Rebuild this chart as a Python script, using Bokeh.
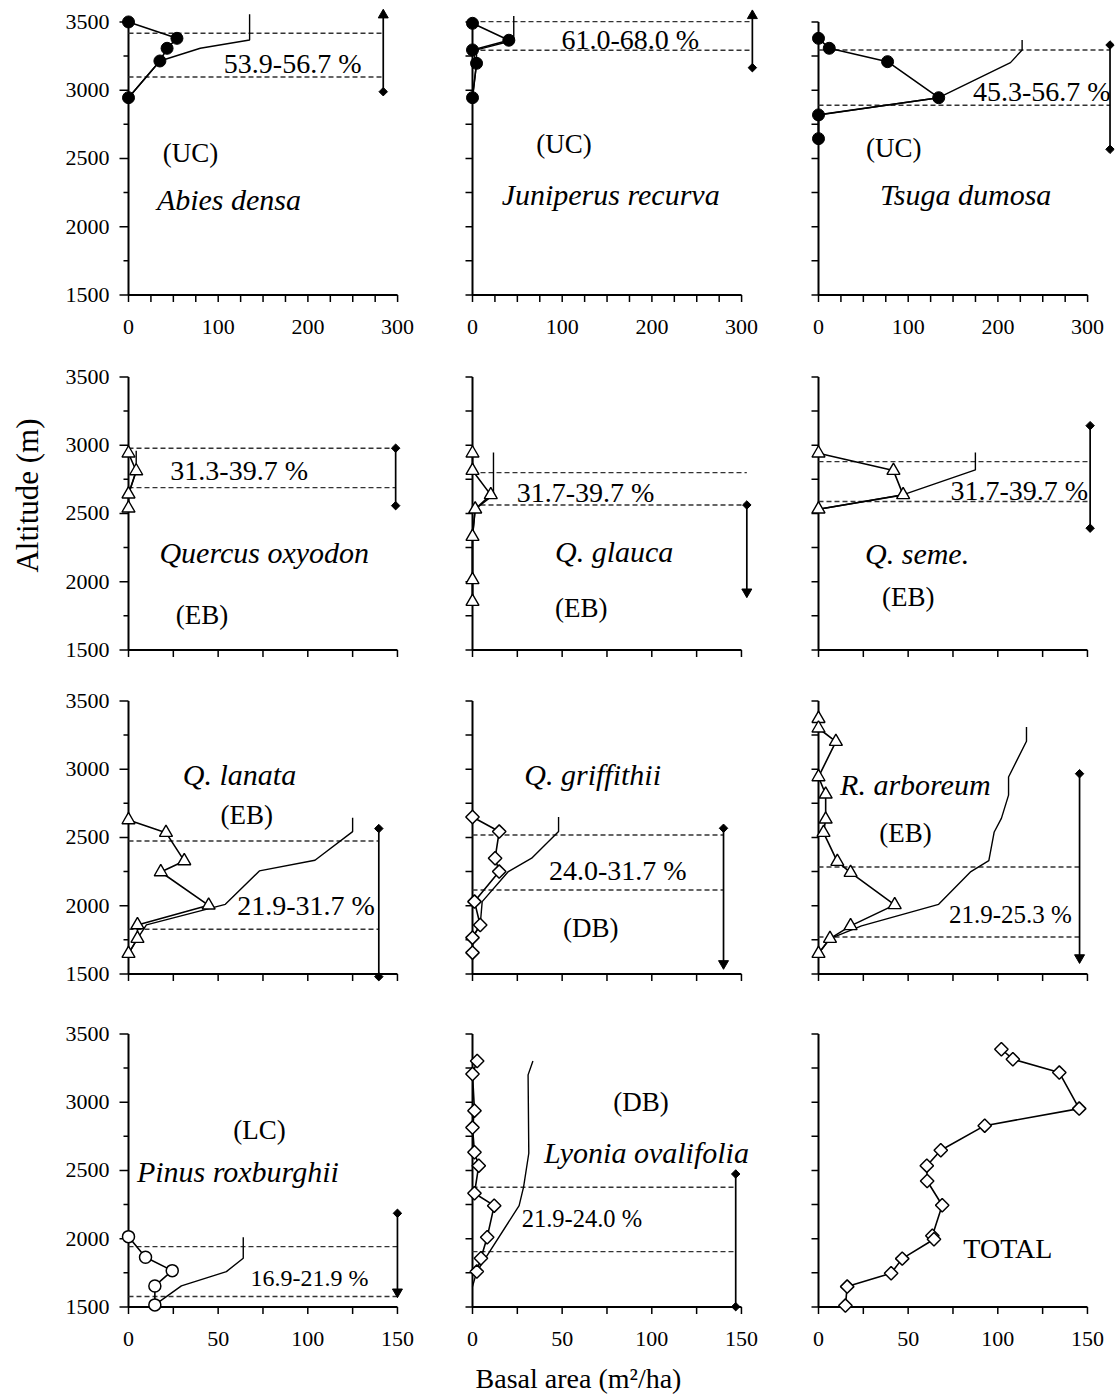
import numpy as np
from bokeh.plotting import figure
from bokeh.layouts import gridplot, row, column
from bokeh.models import Label, Range1d
from bokeh.embed import file_html
from bokeh.resources import INLINE
from bokeh.core.properties import value

FONT = "Liberation Serif"
AX_FONT = '"Liberation Serif", serif'

# ---------------- data: altitude (m) and basal area (m2/ha) ----------------
abies_alt = [3500, 3380, 3307, 3214, 2945]
abies_ba = [0, 54, 43, 35, 0]
abies_cum_alt = [2945, 3214, 3307, 3368, 3556]
abies_cum_ba = [0, 35, 80, 135, 135]
abies_band = [3097, 3417]
abies_range = [2989, 3580]

juniperus_alt = [3490, 3366, 3295, 3197, 2945]
juniperus_ba = [0, 40.5, 0, 4.5, 0]
juniperus_cum_alt = [2945, 3197, 3295, 3366, 3544]
juniperus_cum_ba = [0, 4.5, 4.5, 46, 46]
juniperus_band = [3293, 3502]
juniperus_range = [3165, 3575]

tsuga_alt = [3380, 3307, 3209, 2945, 2819, 2645]
tsuga_ba = [0, 12, 77, 134, 0, 0]
tsuga_cum_alt = [2645, 2819, 2945, 3202, 3295, 3368]
tsuga_cum_ba = [0, 0, 134, 214, 227, 227]
tsuga_band = [2890, 3295]
tsuga_range = [2567, 3331]

oxyodon_alt = [2941, 2811, 2641, 2538]
oxyodon_ba = [0, 4.3, 0, 0]
oxyodon_cum_alt = [2538, 2641, 2811, 2960]
oxyodon_cum_ba = [0, 0, 4.3, 4.3]
oxyodon_band = [2689, 2978]
oxyodon_range = [2557, 2978]

glauca_alt = [2941, 2814, 2636, 2531, 2330, 2013, 1854]
glauca_ba = [0, 0, 10.2, 1.5, 0, 0, 0]
glauca_cum_alt = [1854, 2013, 2330, 2531, 2636, 2946]
glauca_cum_ba = [0, 0, 0, 1.5, 11.7, 11.7]
glauca_band = [2562, 2799]
glauca_range = [1896, 2562]

seme_alt = [2941, 2814, 2636, 2531]
seme_ba = [0, 41.8, 47.2, 0]
seme_cum_alt = [2531, 2636, 2819, 2946]
seme_cum_ba = [0, 47, 87.5, 87.5]
seme_band = [2587, 2880]
seme_range = [2392, 3143]

lanata_alt = [2628, 2535, 2328, 2247, 2003, 1859, 1759, 1649]
lanata_ba = [0, 20.9, 31.1, 18, 44.7, 5, 5, 0]
lanata_cum_alt = [1649, 1759, 1859, 2010, 2255, 2333, 2543, 2645]
lanata_cum_ba = [0, 5, 10, 54, 73, 104, 125, 125]
lanata_band = [1827, 2474]
lanata_range = [1480, 2565]

griffithii_alt = [2650, 2543, 2348, 2250, 2030, 1859, 1766, 1656]
griffithii_ba = [0, 14.9, 12.6, 14.9, 1.1, 4.3, 0, 0]
griffithii_cum_alt = [1656, 1766, 1859, 2030, 2250, 2348, 2543, 2650]
griffithii_cum_ba = [0, 0, 4.3, 5.4, 20, 33, 48, 48]
griffithii_band = [2115, 2518]
griffithii_range = [1547, 2567]

arboreum_alt = [3370, 3300, 3202, 2943, 2816, 2633, 2535, 2323, 2242, 2006, 1852, 1759, 1649]
arboreum_ba = [0, 0, 9.7, 0, 4, 4, 2.8, 10.5, 17.9, 42.5, 17.9, 6.4, 0]
arboreum_cum_alt = [1649, 1759, 1852, 2010, 2250, 2330, 2540, 2640, 2810, 2943, 3205, 3310]
arboreum_cum_ba = [0, 6.4, 24, 67, 85, 95, 98, 102, 106, 106, 116, 116]
arboreum_band = [1771, 2284]
arboreum_range = [1590, 2967]

pinus_alt = [2015, 1864, 1766, 1654, 1515]
pinus_ba = [0, 9.5, 24.4, 14.7, 14.7]
pinus_cum_alt = [1515, 1654, 1759, 1857, 2011]
pinus_cum_ba = [14.7, 29.5, 54.6, 64, 64]
pinus_band = [1576, 1942]
pinus_range = [1581, 2186]

lyonia_alt = [3302, 3207, 2938, 2814, 2633, 2535, 2333, 2242, 2011, 1857, 1759]
lyonia_ba = [2.6, 0, 1.1, 0, 1.1, 3.5, 1.1, 12.1, 8.2, 4.7, 2.4]
lyonia_cum_alt = [1650, 1759, 2242, 2380, 2626, 3200, 3302]
lyonia_cum_ba = [0, 2.4, 26, 28.5, 31.4, 31, 33.7]
lyonia_band = [1905, 2377]
lyonia_range = [1502, 2474]

total_alt = [3388, 3315, 3217, 2953, 2828, 2648, 2535, 2423, 2245, 2022, 1996, 1854, 1747, 1649, 1510]
total_ba = [102, 108.4, 134.3, 145.4, 92.7, 68.2, 60.4, 60.6, 69, 63.5, 64.4, 46.7, 40.5, 16, 15]

alt_ticks = [1500, 2000, 2500, 3000, 3500]
ba_ticks_top = [0, 100, 200, 300]
ba_ticks_bottom = [0, 50, 100, 150]

# ---------------- panel definitions (layout / style) ----------------
PANELS = [
    dict(alt=abies_alt, ba=abies_ba, cum=(abies_cum_ba, abies_cum_alt), mk="fcircle",
         band=abies_band, rng=abies_range, ax=284, caps=("diamond", "up"),
         pct="53.9-56.7 %", pct_at=(183, 3192), pct_fs=28,
         cls="(UC)", cls_at=(69, 2540), sp="Abies densa", sp_at=(112, 2201)),
    dict(alt=juniperus_alt, ba=juniperus_ba, cum=(juniperus_cum_ba, juniperus_cum_alt), mk="fcircle",
         band=juniperus_band, rng=juniperus_range, ax=312, caps=("diamond", "up"),
         pct="61.0-68.0 %", pct_at=(176, 3373), pct_fs=28,
         cls="(UC)", cls_at=(102, 2604), sp="Juniperus recurva", sp_at=(154, 2238)),
    dict(alt=tsuga_alt, ba=tsuga_ba, cum=(tsuga_cum_ba, tsuga_cum_alt), mk="fcircle",
         band=tsuga_band, rng=tsuga_range, ax=325, caps=("diamond", "diamond"),
         pct="45.3-56.7 %", pct_at=(249, 2994), pct_fs=28,
         cls="(UC)", cls_at=(84, 2579), sp="Tsuga dumosa", sp_at=(164, 2238)),
    dict(alt=oxyodon_alt, ba=oxyodon_ba, cum=(oxyodon_cum_ba, oxyodon_cum_alt), mk="tri",
         band=oxyodon_band, rng=oxyodon_range, ax=149, caps=("diamond", "diamond"),
         pct="31.3-39.7 %", pct_at=(61.7, 2811), pct_fs=28,
         cls="(EB)", cls_at=(41, 1756), sp="Quercus oxyodon", sp_at=(75.7, 2213)),
    dict(alt=glauca_alt, ba=glauca_ba, cum=(glauca_cum_ba, glauca_cum_alt), mk="tri",
         band=glauca_band, rng=glauca_range, ax=153, caps=("down", "diamond"),
         pct="31.7-39.7 %", pct_at=(63, 2652), pct_fs=28,
         cls="(EB)", cls_at=(60.6, 1805), sp="Q. glauca", sp_at=(79, 2220)),
    dict(alt=seme_alt, ba=seme_ba, cum=(seme_cum_ba, seme_cum_alt), mk="tri",
         band=seme_band, rng=seme_range, ax=151.5, caps=("diamond", "diamond"),
         pct="31.7-39.7 %", pct_at=(112, 2667), pct_fs=28,
         cls="(EB)", cls_at=(50, 1890), sp="Q. seme.", sp_at=(55, 2203)),
    dict(alt=lanata_alt, ba=lanata_ba, cum=(lanata_cum_ba, lanata_cum_alt), mk="tri",
         band=lanata_band, rng=lanata_range, ax=139.6, caps=("diamond", "diamond"),
         pct="21.9-31.7 %", pct_at=(99, 2003), pct_fs=28,
         cls="(EB)", cls_at=(66, 2665), sp="Q. lanata", sp_at=(61.9, 2958)),
    dict(alt=griffithii_alt, ba=griffithii_ba, cum=(griffithii_cum_ba, griffithii_cum_alt), mk="dia",
         band=griffithii_band, rng=griffithii_range, ax=140, caps=("down", "diamond"),
         pct="24.0-31.7 %", pct_at=(81, 2260), pct_fs=28,
         cls="(DB)", cls_at=(66, 1840), sp="Q. griffithii", sp_at=(67, 2963)),
    dict(alt=arboreum_alt, ba=arboreum_ba, cum=(arboreum_cum_ba, arboreum_cum_alt), mk="tri",
         band=arboreum_band, rng=arboreum_range, ax=145.6, caps=("down", "diamond"),
         pct="21.9-25.3 %", pct_at=(107, 1937), pct_fs=25,
         cls="(EB)", cls_at=(48.5, 2535), sp="R. arboreum", sp_at=(54, 2890)),
    dict(alt=pinus_alt, ba=pinus_ba, cum=(pinus_cum_ba, pinus_cum_alt), mk="ocircle",
         band=pinus_band, rng=pinus_range, ax=150, caps=("down", "diamond"),
         pct="16.9-21.9 %", pct_at=(101, 1710), pct_fs=24,
         cls="(LC)", cls_at=(73, 2797), sp="Pinus roxburghii", sp_at=(61, 2491)),
    dict(alt=lyonia_alt, ba=lyonia_ba, cum=(lyonia_cum_ba, lyonia_cum_alt), mk="dia",
         band=lyonia_band, rng=lyonia_range, ax=146.8, caps=("diamond", "diamond"),
         pct="21.9-24.0 %", pct_at=(61, 2150), pct_fs=24.5,
         cls="(DB)", cls_at=(94, 3004), sp="Lyonia ovalifolia", sp_at=(97, 2633)),
    dict(alt=total_alt, ba=total_ba, cum=None, mk="dia",
         band=None, rng=None, ax=None, caps=None,
         pct=None, pct_at=None, pct_fs=None,
         cls="TOTAL", cls_at=(105.6, 1930), sp=None, sp_at=None),
]

# ---------------- geometry ----------------
YLAB_W = 50
COL_W = [390, 350, 328]
COL_LEFT = [68, 22, 18]
RIGHT = 4
ROW_H = [355, 324, 333, 346]
ROW_BOTTOM = [51, 20, 29, 42]
XLAB_H = 36
TOP = 5
FRAME_H = 299
PX_PER_M = 273 / 2000.0
Y0 = 1430
Y1 = Y0 + FRAME_H / PX_PER_M
X_SCALE = [0.897, 1.793, 1.793, 1.793]   # px per unit of basal area
AXIS_OFFSET = 10  # px between frame edge and x = 0


def add_cap(p, x, y, kind):
    if kind == "diamond":
        p.scatter([x], [y], marker="square", angle=np.pi / 4, size=6,
                  fill_color="black", line_color="black")
    else:
        shift = 4 / PX_PER_M
        if kind == "up":
            p.scatter([x], [y - shift], marker="triangle", size=10,
                      fill_color="black", line_color="black")
        else:
            p.scatter([x], [y + shift], marker="inverted_triangle", size=10,
                      fill_color="black", line_color="black")


def make_panel(i, cfg):
    r, c = divmod(i, 3)
    s = X_SCALE[r]
    frame_w = COL_W[c] - COL_LEFT[c] - RIGHT
    xmin = -AXIS_OFFSET / s
    xmax = xmin + frame_w / s
    p = figure(width=COL_W[c], height=ROW_H[r],
               x_range=Range1d(xmin, xmax), y_range=Range1d(Y0, Y1),
               output_backend="svg", toolbar_location=None,
               min_border_left=COL_LEFT[c], min_border_right=RIGHT,
               min_border_top=TOP, min_border_bottom=ROW_BOTTOM[r])
    p.grid.visible = False
    p.outline_line_color = None
    p.background_fill_color = "white"
    p.border_fill_color = "white"

    xticks = ba_ticks_top if r == 0 else ba_ticks_bottom
    xa_end = xticks[-1]
    minor_x = 25

    # axes (labels only) from Bokeh, lines/ticks drawn at x = 0 and y = 1500
    for ax in p.axis:
        ax.axis_line_color = None
        ax.major_tick_line_color = None
        ax.minor_tick_line_color = None
        ax.major_tick_out = 0
        ax.minor_tick_out = 0
        ax.major_tick_in = 0
        ax.minor_tick_in = 0
        ax.major_label_text_font = AX_FONT
        ax.major_label_text_font_size = "22px"
        ax.major_label_text_color = "black"
    p.xaxis.ticker = xticks
    p.yaxis.ticker = alt_ticks
    p.xaxis.bounds = (xticks[0], xa_end)
    p.yaxis.bounds = (alt_ticks[0], alt_ticks[-1])
    p.yaxis.major_label_standoff = 9
    p.xaxis.major_label_standoff = 15
    if c != 0:
        p.yaxis.visible = False
    if r not in (0, 3):
        p.xaxis.visible = False

    # axis lines
    p.segment(x0=[0, 0], y0=[alt_ticks[0], alt_ticks[0]], x1=[0, xa_end],
              y1=[alt_ticks[-1], alt_ticks[0]], line_color="black", line_width=2)
    # y ticks
    ymaj = np.array(alt_ticks, dtype=float)
    ymin_t = (ymaj[:-1] + ymaj[1:]) / 2
    if c == 0:
        lmaj, lmin = 9, 5
    else:
        lmaj, lmin = 7, 7
    p.segment(x0=np.zeros(len(ymaj)), y0=ymaj, x1=np.full(len(ymaj), -lmaj / s), y1=ymaj,
              line_color="black", line_width=1.5)
    p.segment(x0=np.zeros(len(ymin_t)), y0=ymin_t, x1=np.full(len(ymin_t), -lmin / s), y1=ymin_t,
              line_color="black", line_width=1.5)
    # x ticks (every 25)
    xt = np.arange(xticks[0], xa_end + 0.1, minor_x)
    p.segment(x0=xt, y0=np.full(len(xt), alt_ticks[0]), x1=xt,
              y1=np.full(len(xt), alt_ticks[0] - 7 / PX_PER_M),
              line_color="black", line_width=1.5)

    # dashed band lines and range arrow
    if cfg["band"] is not None:
        ax_x = cfg["ax"]
        p.segment(x0=[0, 0], y0=cfg["band"], x1=[ax_x, ax_x], y1=cfg["band"],
                  line_color="#333333", line_width=1.4, line_dash="5 3")
        lo, hi = cfg["rng"]
        p.segment(x0=[ax_x], y0=[lo], x1=[ax_x], y1=[hi], line_color="black", line_width=1.7)
        add_cap(p, ax_x, lo, cfg["caps"][0])
        add_cap(p, ax_x, hi, cfg["caps"][1])

    # cumulative line
    if cfg["cum"] is not None:
        p.line(cfg["cum"][0], cfg["cum"][1], line_color="black", line_width=1.4)

    # data line and markers
    p.line(cfg["ba"], cfg["alt"], line_color="black", line_width=1.6)
    mk = cfg["mk"]
    if mk == "fcircle":
        p.scatter(cfg["ba"], cfg["alt"], marker="circle", size=12,
                  fill_color="black", line_color="black")
    elif mk == "ocircle":
        p.scatter(cfg["ba"], cfg["alt"], marker="circle", size=12,
                  fill_color="white", line_color="black", line_width=1.5)
    elif mk == "tri":
        p.scatter(cfg["ba"], cfg["alt"], marker="triangle", size=13,
                  fill_color="white", line_color="black", line_width=1.4)
    else:
        p.scatter(cfg["ba"], cfg["alt"], marker="square", angle=np.pi / 4, size=9.5,
                  fill_color="white", line_color="black", line_width=1.5)

    # texts
    if cfg["pct"]:
        x, y = cfg["pct_at"]
        p.add_layout(Label(x=x, y=y, text=cfg["pct"], text_font=FONT,
                           text_font_size=f"{cfg['pct_fs']}px", text_align="center",
                           text_baseline="middle", text_color="black"))
    if cfg["cls"]:
        x, y = cfg["cls_at"]
        p.add_layout(Label(x=x, y=y, text=cfg["cls"], text_font=FONT,
                           text_font_size="27px" if cfg["cls"] != "TOTAL" else "28px",
                           text_align="center", text_baseline="middle",
                           text_color="black"))
    if cfg["sp"]:
        x, y = cfg["sp_at"]
        p.add_layout(Label(x=x, y=y, text=cfg["sp"], text_font=FONT,
                           text_font_style="italic", text_font_size="30px",
                           text_align="center", text_baseline="middle",
                           text_color="black"))
    return p


def blank_fig(w, h):
    f = figure(width=w, height=h, x_range=Range1d(0, w), y_range=Range1d(0, h),
               output_backend="svg", toolbar_location=None,
               min_border_left=0, min_border_right=0, min_border_top=0, min_border_bottom=0)
    f.axis.visible = False
    f.grid.visible = False
    f.outline_line_color = None
    f.background_fill_color = "white"
    f.border_fill_color = "white"
    return f


figs = [make_panel(i, cfg) for i, cfg in enumerate(PANELS)]
grid = gridplot([figs[0:3], figs[3:6], figs[6:9], figs[9:12]], toolbar_location=None)

grid_h = sum(ROW_H)
ylab = blank_fig(YLAB_W, grid_h)
ylab.text(x=[27], y=[grid_h - 495], text=["Altitude (m)"], angle=np.pi / 2,
          text_font=value(FONT), text_font_size="31px", text_align="center",
          text_baseline="middle", text_color="black")

total_w = YLAB_W + sum(COL_W)
xlab = blank_fig(total_w, XLAB_H)
xlab.text(x=[578], y=[XLAB_H - (1378 - grid_h)], text=["Basal area (m²/ha)"],
          text_font=value(FONT), text_font_size="28px", text_align="center",
          text_baseline="middle", text_color="black")

layout = column(row(ylab, grid), xlab)
open("out.html", "w").write(file_html(layout, INLINE))
